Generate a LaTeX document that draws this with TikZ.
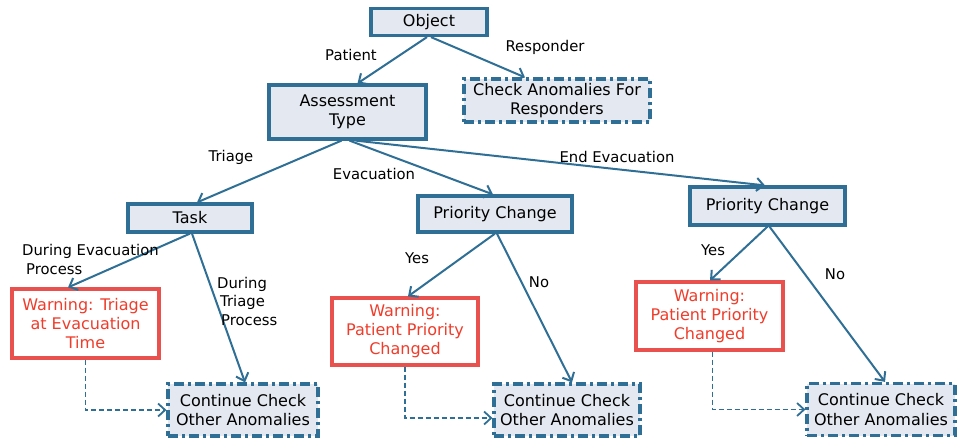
\documentclass[tikz,border=0pt]{standalone}
\usepackage{fontspec}
\setmainfont{DejaVu Sans}
\usetikzlibrary{arrows.meta,calc}
\definecolor{bl}{HTML}{2F6F95}
\definecolor{fl}{HTML}{E4E8F0}
\definecolor{rd}{HTML}{E8514D}
\definecolor{rt}{HTML}{F03C2A}
\begin{document}
\begin{tikzpicture}[x=1pt,y=-1pt,
 box/.style={draw=bl,fill=fl,line width=3.2pt,align=center,font=\fontsize{16}{19.5}\selectfont,inner sep=0pt},
 dbox/.style={box,dash pattern=on 10pt off 4pt on 3pt off 4pt},
 wbox/.style={draw=rd,fill=white,line width=3.2pt,align=center,text=rt,font=\fontsize{16}{19}\selectfont,inner sep=0pt},
 arr/.style={draw=bl,line width=2pt,-{Straight Barb[length=7pt,width=13pt]}},
 darr/.style={arr,line width=1.8pt,dash pattern=on 5pt off 3pt},
 lbl/.style={font=\fontsize{14.8}{18.5}\selectfont,inner sep=0pt}]
\useasboundingbox (0,0) rectangle (957,440);
\node[box,minimum width=116,minimum height=27] (obj) at (429,22) {Object};
\node[dbox,minimum width=186,minimum height=43] (car) at (557,100.5) {Check Anomalies For\\Responders};
\node[box,minimum width=157,minimum height=54] (at) at (347.5,112) {Assessment\\Type};
\node[box,minimum width=124,minimum height=28] (task) at (190,218) {Task};
\node[box,minimum width=154,minimum height=36] (pc1) at (495,214) {Priority Change};
\node[box,minimum width=155,minimum height=38] (pc2) at (767.5,206) {Priority Change};
\node[wbox,minimum width=147,minimum height=69] (w1) at (85.5,323.5) {Warning: Triage\\at Evacuation\\Time};
\node[wbox,minimum width=146,minimum height=67] (w2) at (405,331.5) {Warning:\\Patient Priority\\Changed};
\node[wbox,minimum width=147,minimum height=68] (w3) at (709.5,316) {Warning:\\Patient Priority\\Changed};
\node[dbox,minimum width=150,minimum height=52] (c1) at (243,410) {Continue Check\\Other Anomalies};
\node[dbox,minimum width=146,minimum height=52] (c2) at (567,410) {Continue Check\\Other Anomalies};
\node[dbox,minimum width=148,minimum height=52] (c3) at (881,409.5) {Continue Check\\Other Anomalies};
\draw[arr] ($(obj.south)+(-2,0)$) -- ($(at.north)+(10,0)$);
\draw[arr] ($(obj.south)+(2,0)$) -- ($(car.north)+(-32,0)$);
\draw[arr] ($(at.south)+(-6,0)$) -- ($(task.north)+(7,0)$);
\draw[arr] ($(at.south)+(2,0)$) -- ($(pc1.north)+(-2,0)$);
\draw[arr] ($(at.south)+(8,0)$) -- ($(pc2.north)+(-2.5,0)$);
\draw[arr] (task.south) -- ($(w1.north)+(-17.5,0)$);
\draw[arr] ($(task.south)+(2,0)$) -- ($(c1.north)+(2,0)$);
\draw[arr] (pc1.south) -- ($(w2.north)+(3,0)$);
\draw[arr] ($(pc1.south)+(2,0)$) -- ($(c2.north)+(5,0)$);
\draw[arr] (pc2.south) -- ($(w3.north)+(0.5,0)$);
\draw[arr] ($(pc2.south)+(2,0)$) -- ($(c3.north)+(4,0)$);
\draw[darr] (w1.south) |- (c1.west);
\draw[darr] (w2.south) |- ($(c2.west)+(0,8)$);
\draw[darr] ($(w3.south)+(3,0)$) |- (c3.west);
\node[lbl] (lp) at (351,55) {Patient};
\node[lbl] (lr) at (545,47) {Responder};
\node[lbl] (lt) at (231,157) {Triage};
\node[lbl] (le) at (374,174) {Evacuation};
\node[lbl] (lee) at (617,157) {End Evacuation};
\node[lbl,align=left,anchor=west] (lde) at (22,259.5) {During Evacuation\\\hspace*{4pt}Process};
\node[lbl,align=left,anchor=west] (ldt) at (217,301) {During\\\hspace*{3pt}Triage\\\hspace*{4pt}Process};
\node[lbl] (ly1) at (417,258) {Yes};
\node[lbl] (ln1) at (539,282) {No};
\node[lbl] (ly2) at (713,250) {Yes};
\node[lbl] (ln2) at (835,274) {No};
\end{tikzpicture}
\end{document}
